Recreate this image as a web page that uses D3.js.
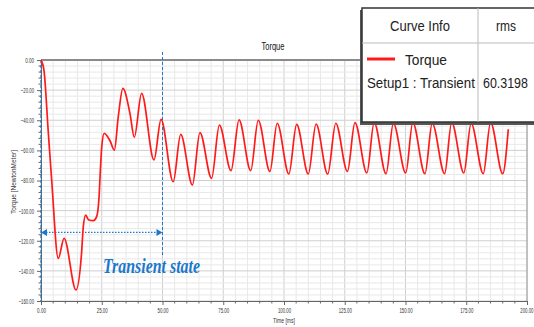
<!DOCTYPE html>
<html>
<head>
<meta charset="utf-8">
<script src="https://cdn.jsdelivr.net/npm/d3@7"></script>
<style>
  body { margin: 0; background: #fff; }
  svg { display: block; font-family: "Liberation Sans", Arial, sans-serif; }
</style>
</head>
<body>
<div id="chart"></div>
<script>
// Torque curve (time in ms, torque in N.m)
const timeMs = [0, 1.2, 3, 4.4, 7.1, 9.5, 14.4, 16.7, 17.4, 18.4, 19.5, 21.5, 22.9, 23.9, 24.3, 25, 26, 28.4, 30.2,
  31.8, 33.7, 36.6, 38.4, 41.4, 46.5, 49.4, 54.4, 57.5, 62.3, 65.4, 70.2, 73.4, 78.2, 81.5, 86.3, 89.4, 94.2,
  97.2, 102, 105.2, 110, 113.2, 118, 121.3, 126.1, 129.2, 134.1, 137.1, 142, 145, 150.1, 153, 158, 161, 166.1,
  169, 174, 177, 182, 185, 190, 192.3];
const torque = [0, -6.6, -48, -80, -131.7, -118.4, -152.7, -128, -110.7, -103, -106, -106.7, -104, -90.8, -77.5,
  -57.6, -48.7, -53.6, -59.8, -37.6, -18.8, -35.4, -51.3, -22.1, -66.4, -39.4, -80.8, -49.4, -83, -48.2, -78.6,
  -43.2, -73.5, -39.8, -73.5, -40, -74, -42, -75.7, -42.7, -75.7, -42.5, -75.7, -42, -74, -41.6, -75, -41.5,
  -75.5, -42, -75, -41.5, -75.5, -42, -75.5, -41.5, -75, -42, -75.5, -41.5, -75.5, -46];

const xTicks = [0, 25, 50, 75, 100, 125, 150, 175, 200];
const yTicks = [0, -20, -40, -60, -80, -100, -120, -140, -160];
const transientEnd = 50;
const transientLevel = -114.5;
const rmsValue = "60.3198";

const W = 534, H = 327;
const svg = d3.select("#chart").append("svg").attr("width", W).attr("height", H);

const x = d3.scaleLinear().domain([0, 200]).range([41, 527]);
const y = d3.scaleLinear().domain([-160, 0]).range([301, 60]);

// the original fonts are condensed: squash a text horizontally to a target width
function squashTo(t, width, pre) {
  const n = t.node().getComputedTextLength();
  const s = Math.min(1, width / n);
  t.attr("transform", `${pre || ""} scale(${s},1)`);
  return s;
}
function addText(px, py, str, size, width, opts) {
  const t = svg.append("text").attr("x", 0).attr("y", 0).attr("font-size", size).text(str);
  Object.entries(opts || {}).forEach(([k, v]) => t.attr(k, v));
  squashTo(t, width, `translate(${px},${py})`);
  return t;
}
function squashTicks(axis, perChar) {
  axis.selectAll(".tick text").each(function () {
    const t = d3.select(this);
    const x0 = +t.attr("x") || 0;
    const s = squashTo(t, t.text().length * perChar);
    t.attr("x", x0 / s);
  });
}

// grid
const grid = svg.append("g");
grid.selectAll("line.v").data(d3.range(0, 201, 5)).enter().append("line")
  .attr("x1", d => x(d)).attr("x2", d => x(d)).attr("y1", y(0)).attr("y2", y(-160))
  .attr("stroke", d => d % 25 === 0 ? "#cfcfcf" : "#e8e8e8").attr("stroke-width", 1);
grid.selectAll("line.h").data(d3.range(-160, 1, 4)).enter().append("line")
  .attr("x1", x(0)).attr("x2", x(200)).attr("y1", d => y(d)).attr("y2", d => y(d))
  .attr("stroke", d => d % 20 === 0 ? "#cfcfcf" : "#e8e8e8").attr("stroke-width", 1);

// frame
svg.append("line").attr("x1", x(0)).attr("x2", x(200)).attr("y1", y(0)).attr("y2", y(0))
  .attr("stroke", "#8a8a8a").attr("stroke-width", 2);
svg.append("line").attr("x1", x(200)).attr("x2", x(200)).attr("y1", y(0)).attr("y2", y(-160))
  .attr("stroke", "#9a9a9a");

// axes
const xAxis = svg.append("g").attr("transform", `translate(0,${y(-160)})`)
  .call(d3.axisBottom(x).tickValues(xTicks).tickFormat(d3.format(".2f")).tickSize(4).tickPadding(3));
const yAxis = svg.append("g").attr("transform", `translate(${x(0)},0)`)
  .call(d3.axisLeft(y).tickValues(yTicks).tickFormat(d3.format(".2f")).tickSize(4).tickPadding(3));
[xAxis, yAxis].forEach(a => {
  a.select(".domain").attr("stroke", "#666");
  a.selectAll(".tick line").attr("stroke", "#666");
  a.selectAll("text").attr("font-size", 7.5).attr("fill", "#333");
});
// last x label sits on the window edge
xAxis.selectAll(".tick text").filter(d => d === 200).attr("text-anchor", "end").attr("x", 6);
squashTicks(xAxis, 2.2);
squashTicks(yAxis, 2.2);

// minor ticks
svg.append("g").selectAll("line").data(d3.range(0, 201, 5).filter(d => d % 25)).enter().append("line")
  .attr("x1", d => x(d)).attr("x2", d => x(d)).attr("y1", y(-160)).attr("y2", y(-160) + 2.5).attr("stroke", "#666");
svg.append("g").selectAll("line").data(d3.range(-160, 1, 4).filter(d => d % 20)).enter().append("line")
  .attr("x1", x(0) - 2.5).attr("x2", x(0)).attr("y1", d => y(d)).attr("y2", d => y(d)).attr("stroke", "#666");

// titles
addText(273, 50, "Torque", 10, 23, { "text-anchor": "middle", fill: "#111" });
addText(284, 323, "Time [ms]", 7, 22, { "text-anchor": "middle", fill: "#333" });
{
  const t = svg.append("text").attr("font-size", 6.5).attr("fill", "#333").attr("text-anchor", "middle")
    .text("Torque [NewtonMeter]");
  squashTo(t, 86, "translate(16,182) rotate(-90)");
}

// transient markers
const blue = "#1b78cc";
svg.append("line").attr("x1", x(0)).attr("x2", x(0)).attr("y1", y(0)).attr("y2", y(-160))
  .attr("stroke", blue).attr("stroke-width", 1.2).attr("stroke-dasharray", "3,2");
svg.append("line").attr("x1", x(transientEnd)).attr("x2", x(transientEnd)).attr("y1", 52).attr("y2", 255)
  .attr("stroke", blue).attr("stroke-width", 1).attr("stroke-dasharray", "3,2");
svg.append("line").attr("x1", x(0) + 5).attr("x2", x(transientEnd) - 5)
  .attr("y1", y(transientLevel)).attr("y2", y(transientLevel))
  .attr("stroke", blue).attr("stroke-width", 1.3).attr("stroke-dasharray", "1.5,1.5");
const ay = y(transientLevel);
svg.append("path").attr("fill", blue)
  .attr("d", `M${x(0)},${ay} l6,-3.5 v7 Z M${x(transientEnd)},${ay} l-6,-3.5 v7 Z`);

// curve
const pts = timeMs.map((t, i) => [t, torque[i]]);
svg.append("path").datum(pts)
  .attr("fill", "none").attr("stroke", "#ff1a1a").attr("stroke-width", 1.7)
  .attr("d", d3.line().x(d => x(d[0])).y(d => y(d[1])).curve(d3.curveMonotoneX));

addText(103, 273, "Transient state", 22, 97, {
  "font-family": "'Liberation Serif', 'Times New Roman', serif",
  "font-style": "italic", "font-weight": "bold", fill: blue
});

// legend table
svg.append("rect").attr("x", 360).attr("y", 10).attr("width", 176).attr("height", 115).attr("fill", "#555");
svg.append("rect").attr("x", 362).attr("y", 8).attr("width", 174).attr("height", 114)
  .attr("fill", "#fff").attr("stroke", "#333").attr("stroke-width", 1.5);
svg.append("line").attr("x1", 362).attr("x2", 534).attr("y1", 43).attr("y2", 43).attr("stroke", "#bbb");
svg.append("line").attr("x1", 478).attr("x2", 478).attr("y1", 8).attr("y2", 122).attr("stroke", "#bbb");
addText(420, 31, "Curve Info", 15, 60, { "text-anchor": "middle", fill: "#222" });
addText(506, 31, "rms", 15, 20, { "text-anchor": "middle", fill: "#222" });
svg.append("line").attr("x1", 367).attr("x2", 395).attr("y1", 59).attr("y2", 59)
  .attr("stroke", "#ff1a1a").attr("stroke-width", 3);
addText(405, 65, "Torque", 15, 42, { fill: "#222" });
addText(367, 88, "Setup1 : Transient", 15, 108, { fill: "#222" });
addText(483, 88, rmsValue, 15, 45, { fill: "#222" });
</script>
</body>
</html>
